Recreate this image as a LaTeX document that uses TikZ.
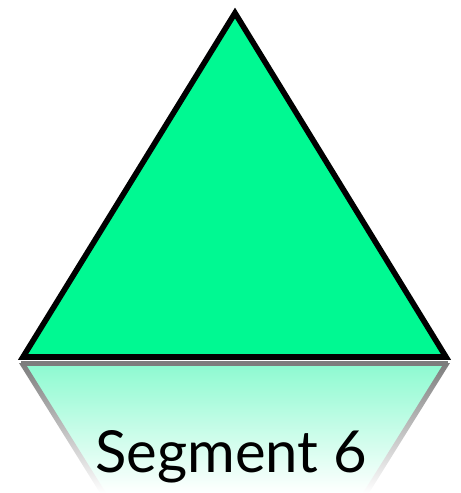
\documentclass[tikz,border=0pt]{standalone}
\usepackage{fontspec}
\setmainfont{Lato}
\usetikzlibrary{shadows}
\definecolor{segGreen}{RGB}{0,249,146}
\definecolor{segPale}{RGB}{140,250,208}
\definecolor{segMid}{RGB}{205,252,234}
\definecolor{edgeGray}{RGB}{125,125,125}
\begin{document}
\begin{tikzpicture}[x=0.02cm, y=-0.02cm]
            \useasboundingbox (0,0) rectangle (460,493);
            % triangle
            \draw[draw=black, fill=segGreen, line width=3.2pt, line join=miter, drop shadow={opacity=0.25, shadow xshift=0pt, shadow yshift=0pt}] (235,13) -- (446,357) -- (23,357) -- cycle;
            % reflection
            \shade[top color=segPale, middle color=segMid, bottom color=white] (22,363) -- (447,363) -- (366,493) -- (103,493) -- cycle;
            \shade[top color=edgeGray, bottom color=white] (19,363) -- (25,363) -- (106,493) -- (100,493) -- cycle;
            \shade[top color=edgeGray, bottom color=white] (444,363) -- (450,363) -- (369,493) -- (363,493) -- cycle;
            \fill[edgeGray] (21,361) rectangle (448,366);
            \node[black, font=\fontsize{33}{40}\selectfont, anchor=base] (label) at (231,472) {Segment 6};
        \end{tikzpicture}
\end{document}
